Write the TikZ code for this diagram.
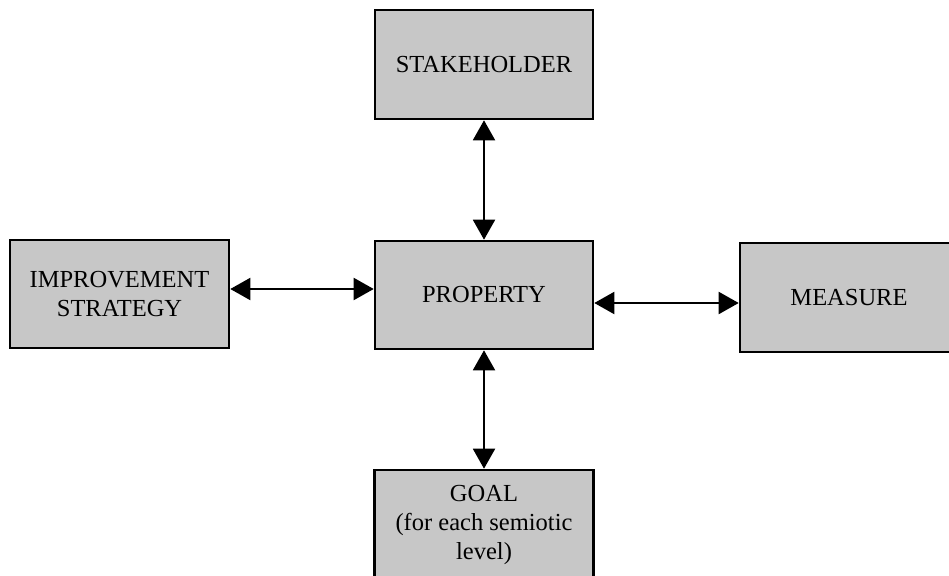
\documentclass[tikz,border=0pt]{standalone}
\usepackage{fontspec}
\setmainfont{Liberation Serif}
\usetikzlibrary{arrows.meta}
\tikzset{
  box/.style={draw=black, line width=2.6pt, fill=black!22, inner sep=0pt,
    align=center, font=\fontsize{24.5}{29}\selectfont},
  link/.style={line width=2pt, {Triangle[length=20pt,width=22pt]}-{Triangle[length=20pt,width=22pt]}}
}
\begin{document}
\begin{tikzpicture}[x=1pt,y=-1pt]
\useasboundingbox (0,0) rectangle (949,575);
\node[box, minimum width=218pt, minimum height=109pt] (stake) at (484,64.5) {STAKEHOLDER};
\node[box, minimum width=218pt, minimum height=108pt] (prop) at (484,295) {PROPERTY};
\node[box, minimum width=219pt, minimum height=108pt] (impr) at (119.5,294) {IMPROVEMENT\\STRATEGY};
\node[box, minimum width=218pt, minimum height=109pt] (meas) at (849,297.5) {MEASURE};
\node[box, minimum width=219pt, minimum height=110pt] (goal) at (484,525) {GOAL\\(for each semiotic\\level)};
\draw[link] (stake.south) -- (prop.north);
\draw[link] (prop.south) -- (goal.north);
\draw[link] ([yshift=5pt]impr.east) -- ([yshift=6pt]prop.west);
\draw[link] ([yshift=-8pt]prop.east) -- ([yshift=-5.5pt]meas.west);
\end{tikzpicture}
\end{document}
